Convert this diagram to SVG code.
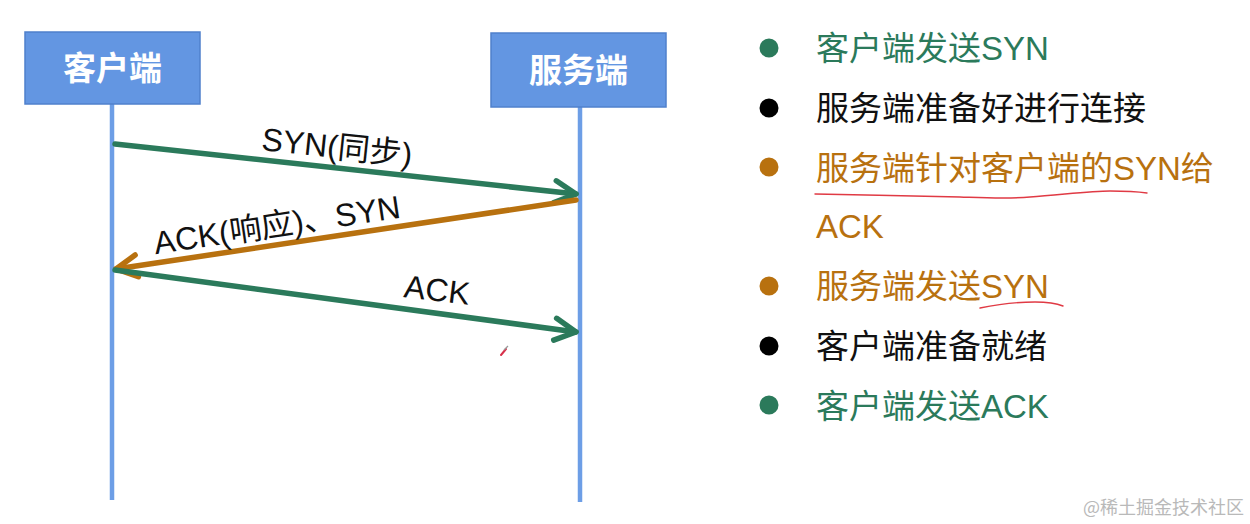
<svg xmlns="http://www.w3.org/2000/svg" width="1250" height="524" viewBox="0 0 1250 524">
  <style>
    .box { fill: #6396e2; stroke: #4f80cc; stroke-width: 1.5; }
    .boxlabel { font-family: "Noto Sans CJK SC", "Liberation Sans", sans-serif; font-size: 33px; font-weight: bold; fill: #ffffff; text-anchor: middle; }
    .life { stroke: #6d9ee6; stroke-width: 4.5; }
    .msg { font-family: "Liberation Sans", "Noto Sans CJK SC", sans-serif; font-size: 32px; fill: #111111; text-anchor: middle; }
    .green { stroke: #2b7a5b; }
    .orange { stroke: #b8710f; }
    .conn { stroke-width: 5.5; stroke-linecap: round; fill: none; }
    .item { font-family: "Liberation Sans", "Noto Sans CJK SC", sans-serif; font-size: 33px; }
    .tg { fill: #2b7a5b; }
    .tb { fill: #111111; }
    .to { fill: #b8710f; }
    .wave { fill: none; stroke: #e03a44; stroke-width: 1.4; stroke-linecap: round; }
    .wm { font-family: "Noto Sans CJK SC", "Liberation Sans", sans-serif; font-size: 18px; fill: #b9b9b9; }
  </style>
  <defs>
    <marker id="ahG" markerUnits="userSpaceOnUse" viewBox="-26 -15 30 30" markerWidth="30" markerHeight="30" refX="0" refY="0" orient="auto">
      <path d="M-21,-11 L0,0 L-21,11" fill="none" stroke="#2b7a5b" stroke-width="5.5" stroke-linecap="round" stroke-linejoin="round"/>
    </marker>
    <marker id="ahO" markerUnits="userSpaceOnUse" viewBox="-26 -15 30 30" markerWidth="30" markerHeight="30" refX="0" refY="0" orient="auto">
      <path d="M-21,-11 L0,0 L-21,11" fill="none" stroke="#b8710f" stroke-width="5.5" stroke-linecap="round" stroke-linejoin="round"/>
    </marker>
  </defs>
  <rect width="1250" height="524" fill="#ffffff"/>

  <g id="lifelines">
    <line class="life" x1="112" y1="104" x2="112" y2="500"/>
    <line class="life" x1="580" y1="107" x2="580" y2="502"/>
  </g>

  <g id="client">
    <rect class="box" x="25" y="32" width="175" height="72"/>
    <text class="boxlabel" x="112.5" y="80">客户端</text>
  </g>
  <g id="server">
    <rect class="box" x="491" y="33" width="175" height="74"/>
    <text class="boxlabel" x="578.5" y="82">服务端</text>
  </g>

  <g id="connectors">
    <line class="conn green" x1="115" y1="144" x2="576" y2="194" marker-end="url(#ahG)"/>
    <line class="conn orange" x1="576" y1="200" x2="116" y2="269" marker-end="url(#ahO)"/>
    <line class="conn green" x1="115" y1="270" x2="576" y2="332" marker-end="url(#ahG)"/>
    <text class="msg" transform="translate(337,147) rotate(6)" y="11">SYN(同步)</text>
    <text class="msg" transform="translate(277,225) rotate(-8.5)" y="11">ACK(响应)、SYN</text>
    <text class="msg" transform="translate(437,290) rotate(7)" y="11">ACK</text>
  </g>

  <g id="list">
    <circle cx="769" cy="48" r="9.5" fill="#2b7a5b"/>
    <text class="item tg" x="816" y="60">客户端发送SYN</text>
    <circle cx="769" cy="108" r="9.5" fill="#000000"/>
    <text class="item tb" x="816" y="120">服务端准备好进行连接</text>
    <circle cx="769" cy="167" r="9.5" fill="#b8710f"/>
    <text class="item to" x="816" y="180">服务端针对客户端的SYN给</text>
    <text class="item to" x="816" y="238">ACK</text>
    <circle cx="769" cy="286" r="9.5" fill="#b8710f"/>
    <text class="item to" x="816" y="298">服务端发送SYN</text>
    <circle cx="769" cy="346" r="9.5" fill="#000000"/>
    <text class="item tb" x="816" y="358">客户端准备就绪</text>
    <circle cx="769" cy="405" r="9.5" fill="#2b7a5b"/>
    <text class="item tg" x="816" y="418">客户端发送ACK</text>
  </g>

  <g id="annotations">
    <path class="wave" d="M815,194 C860,195 920,196 960,197 C990,198 1010,199 1030,197 C1060,195 1090,191 1110,191 C1125,191 1140,192 1147,193"/>
    <path class="wave" d="M980,308 C995,305 1015,302 1035,302 C1048,302 1058,304 1063,306"/>
    <path d="M501,355 L506,349" stroke="#d8304a" stroke-width="2" stroke-linecap="round"/>
    <path d="M504,350 L508,346" stroke="#999999" stroke-width="1.2"/>
  </g>

  <text class="wm" x="1083" y="514">@稀土掘金技术社区</text>
</svg>
